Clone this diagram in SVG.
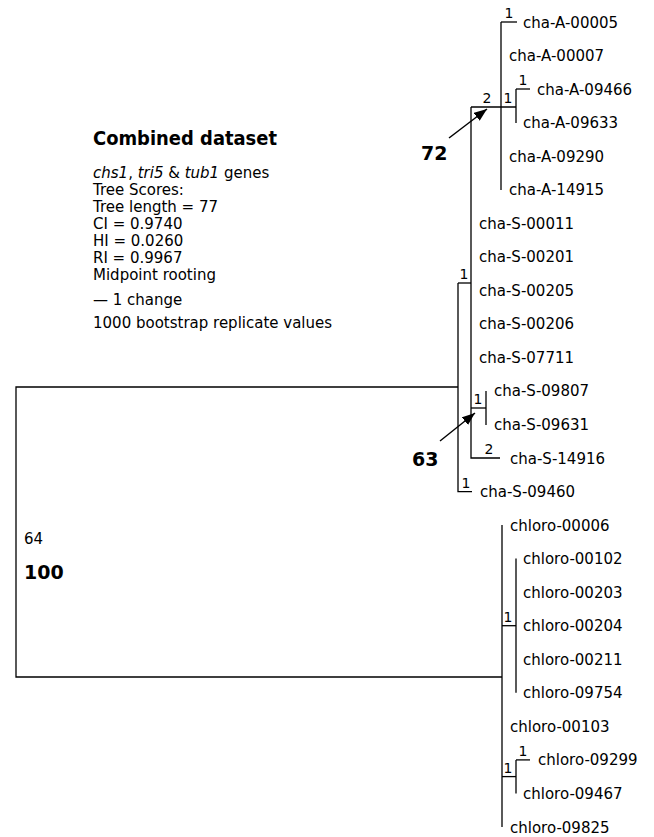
<svg xmlns="http://www.w3.org/2000/svg" width="654" height="837" viewBox="0 0 654 837">
<style>
text{font-family:"DejaVu Sans","Liberation Sans",sans-serif;fill:#000}
.tip{font-size:15px}
.bl{font-size:14px;text-anchor:middle}
.info{font-size:15px}
.big{font-size:19px;font-weight:bold}
.br{stroke:#000;stroke-width:1.3;fill:none}
.arr{stroke:#000;stroke-width:1.5;fill:none;marker-end:url(#ah)}
</style>
<defs>
<marker id="ah" markerUnits="userSpaceOnUse" markerWidth="13" markerHeight="10" refX="13" refY="5" orient="auto">
<path d="M0,0 L13,5 L0,10 z" fill="#000"/>
</marker>
</defs>
<rect width="654" height="837" fill="#fff"/>

<g id="legend">
<text x="93" y="145" font-size="19" font-weight="bold" textLength="184" lengthAdjust="spacingAndGlyphs">Combined dataset</text>
<text class="info" x="93" y="178"><tspan font-style="italic">chs1</tspan>, <tspan font-style="italic">tri5</tspan> &amp; <tspan font-style="italic">tub1</tspan> genes</text>
<text class="info" x="93" y="195">Tree Scores:</text>
<text class="info" x="93" y="212">Tree length = 77</text>
<text class="info" x="93" y="229">CI = 0.9740</text>
<text class="info" x="93" y="246">HI = 0.0260</text>
<text class="info" x="93" y="263">RI = 0.9967</text>
<text class="info" x="93" y="280">Midpoint rooting</text>
<text class="info" x="93" y="305">— 1 change</text>
<text class="info" x="93" y="328">1000 bootstrap replicate values</text>
</g>

<g id="connectors">
<!-- root -->
<path class="br" d="M458,387 H16 V677 H502"/>
<!-- cha clade -->
<path class="br" d="M458,283 V491.6 H472"/>
<path class="br" d="M458,283 H471"/>
<path class="br" d="M471,107 V458 H500"/>
<path class="br" d="M471,107 H516"/>
<path class="br" d="M501,22 V190"/>
<path class="br" d="M501,22 H517"/>
<path class="br" d="M516,89 V123"/>
<path class="br" d="M516,89 H530"/>
<path class="br" d="M471,408 H486"/>
<path class="br" d="M486,391 V425"/>
<!-- chloro clade -->
<path class="br" d="M502,525 V827"/>
<path class="br" d="M502,625.7 H516"/>
<path class="br" d="M516,558.6 V692.8"/>
<path class="br" d="M502,776.6 H516"/>
<path class="br" d="M516,759.9 V793.4"/>
<path class="br" d="M516,759.9 H530"/>
<!-- callout arrows -->
<path class="arr" d="M449,138 L487,109"/>
<path class="arr" d="M440,441 L475,413"/>
</g>

<g id="branch-labels">
<text class="bl" x="509" y="18">1</text>
<text class="bl" x="487" y="103">2</text>
<text class="bl" x="508" y="103">1</text>
<text class="bl" x="523" y="85">1</text>
<text class="bl" x="464" y="279">1</text>
<text class="bl" x="478" y="404">1</text>
<text class="bl" x="489" y="454">2</text>
<text class="bl" x="466" y="488">1</text>
<text class="bl" x="508" y="622">1</text>
<text class="bl" x="508" y="773">1</text>
<text class="bl" x="523" y="756">1</text>
</g>

<g id="support-72"><text class="big" x="421" y="160">72</text></g>
<g id="support-63"><text class="big" x="412" y="466">63</text></g>
<g id="root-support">
<text x="24" y="544" font-size="15">64</text>
<text class="big" x="24" y="579">100</text>
</g>

<g id="tip-cha-A-00005"><text class="tip" x="523" y="27.5">cha-A-00005</text></g>
<g id="tip-cha-A-00007"><text class="tip" x="509" y="61">cha-A-00007</text></g>
<g id="tip-cha-A-09466"><text class="tip" x="537" y="94.6">cha-A-09466</text></g>
<g id="tip-cha-A-09633"><text class="tip" x="523" y="128.1">cha-A-09633</text></g>
<g id="tip-cha-A-09290"><text class="tip" x="509" y="161.7">cha-A-09290</text></g>
<g id="tip-cha-A-14915"><text class="tip" x="509" y="195.2">cha-A-14915</text></g>
<g id="tip-cha-S-00011"><text class="tip" x="479" y="228.7">cha-S-00011</text></g>
<g id="tip-cha-S-00201"><text class="tip" x="479" y="262.3">cha-S-00201</text></g>
<g id="tip-cha-S-00205"><text class="tip" x="479" y="295.8">cha-S-00205</text></g>
<g id="tip-cha-S-00206"><text class="tip" x="479" y="329.4">cha-S-00206</text></g>
<g id="tip-cha-S-07711"><text class="tip" x="479" y="362.9">cha-S-07711</text></g>
<g id="tip-cha-S-09807"><text class="tip" x="494" y="396.4">cha-S-09807</text></g>
<g id="tip-cha-S-09631"><text class="tip" x="494" y="430">cha-S-09631</text></g>
<g id="tip-cha-S-14916"><text class="tip" x="510" y="463.5">cha-S-14916</text></g>
<g id="tip-cha-S-09460"><text class="tip" x="480" y="497.1">cha-S-09460</text></g>
<g id="tip-chloro-00006"><text class="tip" x="510" y="530.6">chloro-00006</text></g>
<g id="tip-chloro-00102"><text class="tip" x="523" y="564.1">chloro-00102</text></g>
<g id="tip-chloro-00203"><text class="tip" x="523" y="597.7">chloro-00203</text></g>
<g id="tip-chloro-00204"><text class="tip" x="523" y="631.2">chloro-00204</text></g>
<g id="tip-chloro-00211"><text class="tip" x="523" y="664.8">chloro-00211</text></g>
<g id="tip-chloro-09754"><text class="tip" x="523" y="698.3">chloro-09754</text></g>
<g id="tip-chloro-00103"><text class="tip" x="510" y="731.8">chloro-00103</text></g>
<g id="tip-chloro-09299"><text class="tip" x="538" y="765.4">chloro-09299</text></g>
<g id="tip-chloro-09467"><text class="tip" x="523" y="798.9">chloro-09467</text></g>
<g id="tip-chloro-09825"><text class="tip" x="510" y="832.5">chloro-09825</text></g>
</svg>
